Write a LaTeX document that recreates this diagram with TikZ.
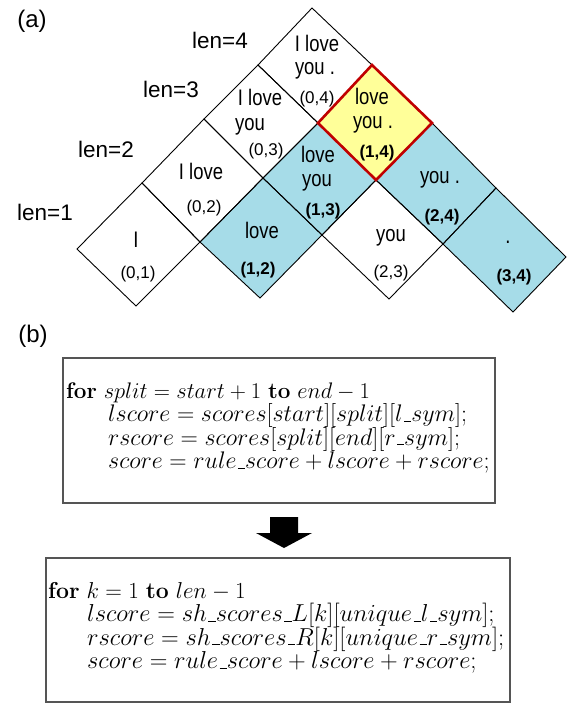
\RequirePackage{fix-cm}
\documentclass[tikz,border=0pt]{standalone}
\usepackage{fontspec}
\newfontfamily\arial{Liberation Sans}
\definecolor{cellblue}{RGB}{166,220,232}
\definecolor{cellyellow}{RGB}{255,255,153}
\definecolor{cellred}{RGB}{192,0,0}
\definecolor{boxgray}{RGB}{85,85,85}
\newcommand\us{\kern.06em\vbox{\hrule width.3em height 0.8pt}}
\begin{document}
\begin{tikzpicture}[x=1pt,y=-1pt,
  cellline/.style={draw=black, line width=0.9pt, line join=miter},
  word/.style={font=\arial\fontsize{22.5}{24}\selectfont, xscale=0.82, inner sep=0pt},
  coord/.style={font=\arial\fontsize{17}{18}\selectfont, inner sep=0pt},
  bcoord/.style={font=\arial\bfseries\fontsize{17}{18}\selectfont, inner sep=0pt},
  lenlab/.style={font=\arial\fontsize{22.5}{24}\selectfont, inner sep=0pt},
  partlab/.style={font=\arial\fontsize{24}{26}\selectfont, inner sep=0pt},
  codefirst/.style={font=\fontsize{22.5}{23}\selectfont, anchor=base west, inner sep=0pt},
  code/.style={font=\fontsize{24}{25}\selectfont, anchor=base west, inner sep=0pt},
  codebig/.style={font=\fontsize{24.5}{26}\selectfont, anchor=base west, inner sep=0pt},
  codebox/.style={draw=boxgray, line width=1.3pt, inner sep=0pt}]
\useasboundingbox (0,0) rectangle (567,706);
% grid vertices
\coordinate (p00) at (77,249);
\coordinate (p10) at (142,183);
\coordinate (p20) at (204,119);
\coordinate (p30) at (258,65);
\coordinate (p40) at (312,8);
\coordinate (p01) at (136,306);
\coordinate (p11) at (200,242);
\coordinate (p21) at (263,178);
\coordinate (p31) at (318,123);
\coordinate (p41) at (372,65);
\coordinate (p12) at (260,298);
\coordinate (p22) at (322,235);
\coordinate (p32) at (376,180);
\coordinate (p42) at (432,123);
\coordinate (p23) at (389,299);
\coordinate (p33) at (443,244);
\coordinate (p43) at (496,188);
\coordinate (p34) at (513,312);
\coordinate (p44) at (566,257);
% fills
\fill[cellblue] (p11)--(p21)--(p22)--(p12)--cycle;
\fill[cellblue] (p21)--(p31)--(p32)--(p22)--cycle;
\fill[cellblue] (p32)--(p42)--(p43)--(p33)--cycle;
\fill[cellblue] (p33)--(p43)--(p44)--(p34)--cycle;
\fill[cellyellow] (p31)--(p41)--(p42)--(p32)--cycle;
% outlines
\draw[cellline] (p00)--(p10)--(p11)--(p01)--cycle;
\draw[cellline] (p10)--(p20)--(p21)--(p11)--cycle;
\draw[cellline] (p20)--(p30)--(p31)--(p21)--cycle;
\draw[cellline] (p30)--(p40)--(p41)--(p31)--cycle;
\draw[cellline] (p11)--(p21)--(p22)--(p12)--cycle;
\draw[cellline] (p21)--(p31)--(p32)--(p22)--cycle;
\draw[cellline] (p22)--(p32)--(p33)--(p23)--cycle;
\draw[cellline] (p32)--(p42)--(p43)--(p33)--cycle;
\draw[cellline] (p33)--(p43)--(p44)--(p34)--cycle;
\draw[draw=cellred, line width=2.6pt, line join=miter] (p31)--(p41)--(p42)--(p32)--cycle;
% labels
\node[partlab] (la) at (32,21) {(a)};
\node[partlab] (lb) at (33,336) {(b)};
\node[lenlab] (len4) at (220,40) {len=4};
\node[lenlab] (len3) at (171,89) {len=3};
\node[lenlab] (len2) at (106,149) {len=2};
\node[lenlab] (len1) at (45,212) {len=1};
% cell texts
\node[word] (w01) at (136,240) {I};
\node[coord] (c01) at (138,274) {(0,1)};
\node[word] (w02) at (201,171) {I love};
\node[coord] (c02) at (204,208) {(0,2)};
\node[word] (w03a) at (260,97) {I love};
\node[word] (w03b) at (250,127) {you};
\node[coord] (c03) at (266,151) {(0,3)};
\node[word] (w04a) at (317,43) {I love};
\node[word] (w04b) at (315,71) {you .};
\node[coord] (c04) at (317,99) {(0,4)};
\node[word] (w12) at (262,230) {love};
\node[bcoord] (c12) at (258,270) {(1,2)};
\node[word] (w13a) at (318,154) {love};
\node[word] (w13b) at (317,183) {you};
\node[bcoord] (c13) at (323,211) {(1,3)};
\node[word] (w14a) at (372,96) {love};
\node[word] (w14b) at (373,125) {you .};
\node[bcoord] (c14) at (377,153) {(1,4)};
\node[word] (w23) at (391,238) {you};
\node[coord] (c23) at (391,273) {(2,3)};
\node[word] (w24) at (440,180) {you .};
\node[bcoord] (c24) at (442,217) {(2,4)};
\node[word] (w34) at (508,242) {.};
\node[bcoord] (c34) at (514,277) {(3,4)};
% code boxes
\node[codebox, minimum width=432pt, minimum height=145pt] (box1) at (279,430.5) {};
\node[codebox, minimum width=464pt, minimum height=144pt] (box2) at (278,630) {};
\node[codefirst] (b1l1) at (66,398) {\textbf{for} $split = start + 1$ \textbf{to} $end - 1$};
\node[code] (b1l2) at (108,421.5) {$lscore = scores[start][split][l\us sym]$;};
\node[code] (b1l3) at (108,445) {$rscore = scores[split][end][r\us sym]$;};
\node[code] (b1l4) at (108,468.5) {$score = rule\us score + lscore + rscore$;};
\node[codefirst, font=\fontsize{23}{24}\selectfont] (b2l1) at (48,598) {\textbf{for} $k = 1$ \textbf{to} $len - 1$};
\node[codebig] (b2l2) at (87,621.5) {$lscore = sh\us scores\us L[k][unique\us l\us sym]$;};
\node[codebig] (b2l3) at (87,645) {$rscore = sh\us scores\us R[k][unique\us r\us sym]$;};
\node[codebig] (b2l4) at (87,668.5) {$score = rule\us score + lscore + rscore$;};
% block arrow
\fill[black] (270,517) -- (298,517) -- (298,533) -- (312,533) -- (284,548) -- (256,533) -- (270,533) -- cycle;
\end{tikzpicture}
\end{document}
